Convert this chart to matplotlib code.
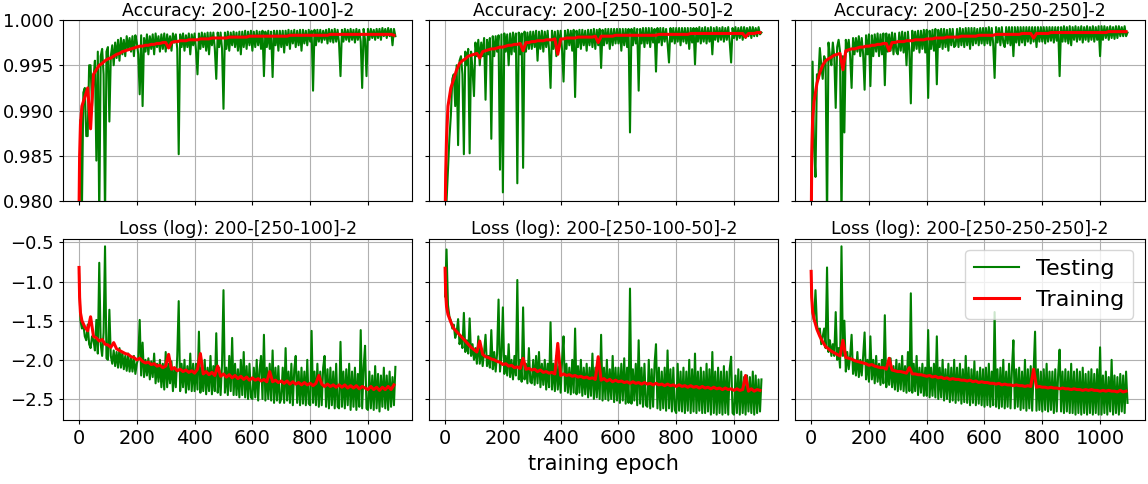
import numpy as np
from matplotlib import pyplot as plt

ep_test = list(range(0, 1100, 5))
ep_train = [0, 2, 5] + list(range(10, 1091, 10))

names = ['200-[250-100]-2', '200-[250-100-50]-2', '200-[250-250-250]-2']

acc_test_1 = [
    0.9770, 0.9890, 0.9790, 0.9920, 0.9925, 0.9872, 0.9872, 0.9950, 0.9950, 0.9905, 0.9935, 0.9955, 0.9845, 0.9965, 0.9780, 0.9960, 0.9968, 0.9940, 0.9780, 0.9965,
    0.9970, 0.9888, 0.9960, 0.9972, 0.9950, 0.9975, 0.9958, 0.9978, 0.9955, 0.9980, 0.9962, 0.9978, 0.9960, 0.9982, 0.9968, 0.9980, 0.9965, 0.9982, 0.9960, 0.9983,
    0.9975, 0.9962, 0.9918, 0.9983, 0.9905, 0.9980, 0.9965, 0.9984, 0.9962, 0.9982, 0.9968, 0.9984, 0.9962, 0.9985, 0.9970, 0.9982, 0.9965, 0.9984, 0.9968, 0.9985,
    0.9965, 0.9984, 0.9970, 0.9982, 0.9966, 0.9985, 0.9975, 0.9984, 0.9968, 0.9852, 0.9984, 0.9970, 0.9985, 0.9966, 0.9983, 0.9970, 0.9985, 0.9962, 0.9984, 0.9972,
    0.9985, 0.9966, 0.9940, 0.9985, 0.9968, 0.9986, 0.9970, 0.9985, 0.9966, 0.9986, 0.9962, 0.9986, 0.9972, 0.9986, 0.9968, 0.9935, 0.9986, 0.9970, 0.9986, 0.9968,
    0.9902, 0.9986, 0.9968, 0.9987, 0.9966, 0.9986, 0.9972, 0.9987, 0.9970, 0.9986, 0.9966, 0.9987, 0.9962, 0.9987, 0.9970, 0.9988, 0.9968, 0.9987, 0.9972, 0.9988,
    0.9966, 0.9987, 0.9970, 0.9988, 0.9972, 0.9987, 0.9968, 0.9988, 0.9938, 0.9987, 0.9970, 0.9988, 0.9968, 0.9987, 0.9937, 0.9988, 0.9972, 0.9988, 0.9966, 0.9988,
    0.9970, 0.9988, 0.9964, 0.9988, 0.9972, 0.9989, 0.9968, 0.9988, 0.9974, 0.9989, 0.9970, 0.9988, 0.9972, 0.9989, 0.9966, 0.9989, 0.9974, 0.9988, 0.9972, 0.9989,
    0.9976, 0.9988, 0.9922, 0.9989, 0.9972, 0.9989, 0.9976, 0.9989, 0.9975, 0.9988, 0.9978, 0.9989, 0.9974, 0.9990, 0.9976, 0.9989, 0.9975, 0.9990, 0.9976, 0.9989,
    0.9974, 0.9938, 0.9989, 0.9976, 0.9990, 0.9978, 0.9989, 0.9976, 0.9990, 0.9978, 0.9989, 0.9975, 0.9990, 0.9978, 0.9989, 0.9976, 0.9925, 0.9990, 0.9978, 0.9938,
    0.9990, 0.9978, 0.9990, 0.9980, 0.9989, 0.9978, 0.9990, 0.9980, 0.9990, 0.9978, 0.9991, 0.9982, 0.9990, 0.9980, 0.9991, 0.9982, 0.9990, 0.9972, 0.9990, 0.9982]
acc_train_1 = [0.9790, 0.9850, 0.9885,
    0.9905, 0.9915, 0.9925, 0.9880, 0.9940, 0.9945, 0.9950, 0.9952, 0.9955, 0.9957,
    0.9958, 0.9960, 0.9962, 0.9963, 0.9965, 0.9966, 0.9967, 0.9968, 0.9969, 0.9970,
    0.9971, 0.9971, 0.9972, 0.9972, 0.9973, 0.9973, 0.9974, 0.9974, 0.9975, 0.9975,
    0.9969, 0.9975, 0.9976, 0.9976, 0.9977, 0.9977, 0.9977, 0.9978, 0.9978, 0.9978,
    0.9978, 0.9979, 0.9979, 0.9979, 0.9979, 0.9980, 0.9980, 0.9980, 0.9980, 0.9980,
    0.9980, 0.9981, 0.9981, 0.9981, 0.9981, 0.9981, 0.9981, 0.9981, 0.9982, 0.9982,
    0.9982, 0.9982, 0.9982, 0.9982, 0.9982, 0.9982, 0.9982, 0.9982, 0.9982, 0.9982,
    0.9982, 0.9982, 0.9983, 0.9983, 0.9983, 0.9983, 0.9983, 0.9983, 0.9983, 0.9983,
    0.9983, 0.9983, 0.9983, 0.9983, 0.9983, 0.9983, 0.9984, 0.9984, 0.9984, 0.9984,
    0.9984, 0.9984, 0.9984, 0.9984, 0.9984, 0.9984, 0.9984, 0.9984, 0.9984, 0.9984,
    0.9984, 0.9984, 0.9984, 0.9984, 0.9984, 0.9984, 0.9984, 0.9984, 0.9983]

acc_test_2 = [
    0.9770, 0.9800, 0.9835, 0.9870, 0.9895, 0.9935, 0.9940, 0.9905, 0.9950, 0.9862, 0.9955, 0.9960, 0.9940, 0.9852, 0.9965, 0.9950, 0.9968, 0.9853, 0.9965, 0.9945,
    0.9916, 0.9975, 0.9960, 0.9978, 0.9950, 0.9975, 0.9960, 0.9980, 0.9912, 0.9978, 0.9962, 0.9980, 0.9869, 0.9982, 0.9960, 0.9982, 0.9965, 0.9983, 0.9835, 0.9984,
    0.9810, 0.9985, 0.9965, 0.9984, 0.9950, 0.9985, 0.9962, 0.9986, 0.9965, 0.9985, 0.9820, 0.9986, 0.9962, 0.9985, 0.9837, 0.9987, 0.9965, 0.9986, 0.9968, 0.9987,
    0.9968, 0.9987, 0.9970, 0.9988, 0.9955, 0.9987, 0.9968, 0.9988, 0.9965, 0.9987, 0.9970, 0.9988, 0.9966, 0.9925, 0.9988, 0.9968, 0.9987, 0.9960, 0.9988, 0.9970,
    0.9988, 0.9966, 0.9932, 0.9988, 0.9968, 0.9989, 0.9972, 0.9988, 0.9966, 0.9989, 0.9915, 0.9988, 0.9970, 0.9989, 0.9968, 0.9989, 0.9972, 0.9988, 0.9966, 0.9989,
    0.9972, 0.9989, 0.9970, 0.9990, 0.9968, 0.9989, 0.9972, 0.9990, 0.9947, 0.9989, 0.9972, 0.9990, 0.9974, 0.9990, 0.9968, 0.9990, 0.9972, 0.9990, 0.9974, 0.9990,
    0.9974, 0.9990, 0.9966, 0.9990, 0.9972, 0.9990, 0.9970, 0.9990, 0.9876, 0.9990, 0.9972, 0.9991, 0.9974, 0.9990, 0.9922, 0.9990, 0.9974, 0.9991, 0.9970, 0.9991,
    0.9974, 0.9991, 0.9970, 0.9991, 0.9975, 0.9990, 0.9943, 0.9991, 0.9975, 0.9991, 0.9972, 0.9991, 0.9976, 0.9990, 0.9974, 0.9953, 0.9991, 0.9976, 0.9991, 0.9974,
    0.9991, 0.9976, 0.9991, 0.9972, 0.9991, 0.9976, 0.9991, 0.9974, 0.9991, 0.9968, 0.9991, 0.9975, 0.9991, 0.9951, 0.9991, 0.9976, 0.9992, 0.9974, 0.9991, 0.9976,
    0.9992, 0.9974, 0.9991, 0.9976, 0.9992, 0.9962, 0.9991, 0.9978, 0.9992, 0.9976, 0.9991, 0.9978, 0.9992, 0.9976, 0.9991, 0.9978, 0.9992, 0.9976, 0.9953, 0.9991,
    0.9980, 0.9992, 0.9978, 0.9991, 0.9980, 0.9992, 0.9978, 0.9992, 0.9980, 0.9991, 0.9982, 0.9992, 0.9980, 0.9992, 0.9982, 0.9991, 0.9982, 0.9992, 0.9984, 0.9986]
acc_train_2 = [0.9775, 0.9830, 0.9870,
    0.9905, 0.9925, 0.9935, 0.9945, 0.9952, 0.9955, 0.9957, 0.9960, 0.9961, 0.9962,
    0.9963, 0.9958, 0.9965, 0.9966, 0.9967, 0.9968, 0.9968, 0.9969, 0.9970, 0.9970,
    0.9971, 0.9972, 0.9972, 0.9973, 0.9973, 0.9974, 0.9966, 0.9975, 0.9975, 0.9976,
    0.9976, 0.9977, 0.9977, 0.9977, 0.9978, 0.9978, 0.9978, 0.9979, 0.9962, 0.9979,
    0.9979, 0.9980, 0.9980, 0.9980, 0.9980, 0.9981, 0.9981, 0.9981, 0.9981, 0.9981,
    0.9981, 0.9982, 0.9975, 0.9982, 0.9982, 0.9982, 0.9982, 0.9982, 0.9983, 0.9983,
    0.9983, 0.9983, 0.9983, 0.9983, 0.9983, 0.9983, 0.9983, 0.9983, 0.9983, 0.9983,
    0.9983, 0.9983, 0.9983, 0.9984, 0.9984, 0.9984, 0.9984, 0.9984, 0.9984, 0.9984,
    0.9984, 0.9984, 0.9984, 0.9984, 0.9985, 0.9985, 0.9985, 0.9985, 0.9985, 0.9985,
    0.9985, 0.9985, 0.9985, 0.9985, 0.9985, 0.9985, 0.9985, 0.9985, 0.9985, 0.9985,
    0.9985, 0.9985, 0.9985, 0.9981, 0.9985, 0.9985, 0.9985, 0.9986, 0.9986]

acc_test_3 = [
    0.9765, 0.9954, 0.9860, 0.9827, 0.9940, 0.9935, 0.9969, 0.9950, 0.9935, 0.9960, 0.9955, 0.9775, 0.9975, 0.9960, 0.9950, 0.9975, 0.9960, 0.9903, 0.9970, 0.9978,
    0.9965, 0.9775, 0.9960, 0.9876, 0.9978, 0.9965, 0.9978, 0.9960, 0.9925, 0.9980, 0.9962, 0.9980, 0.9965, 0.9982, 0.9960, 0.9980, 0.9962, 0.9923, 0.9983, 0.9962,
    0.9984, 0.9927, 0.9983, 0.9960, 0.9984, 0.9965, 0.9985, 0.9960, 0.9984, 0.9962, 0.9985, 0.9928, 0.9985, 0.9965, 0.9984, 0.9966, 0.9986, 0.9962, 0.9985, 0.9965,
    0.9962, 0.9986, 0.9966, 0.9987, 0.9964, 0.9986, 0.9950, 0.9987, 0.9966, 0.9908, 0.9988, 0.9966, 0.9987, 0.9968, 0.9988, 0.9964, 0.9988, 0.9968, 0.9989, 0.9964,
    0.9989, 0.9914, 0.9988, 0.9968, 0.9989, 0.9966, 0.9990, 0.9929, 0.9989, 0.9970, 0.9990, 0.9968, 0.9990, 0.9970, 0.9989, 0.9966, 0.9990, 0.9972, 0.9990, 0.9970,
    0.9972, 0.9990, 0.9970, 0.9991, 0.9972, 0.9990, 0.9970, 0.9991, 0.9972, 0.9991, 0.9968, 0.9991, 0.9972, 0.9991, 0.9974, 0.9990, 0.9972, 0.9991, 0.9974, 0.9991,
    0.9972, 0.9991, 0.9974, 0.9992, 0.9972, 0.9991, 0.9974, 0.9936, 0.9992, 0.9975, 0.9991, 0.9972, 0.9992, 0.9975, 0.9970, 0.9992, 0.9974, 0.9992, 0.9972, 0.9992,
    0.9960, 0.9992, 0.9975, 0.9992, 0.9972, 0.9992, 0.9975, 0.9992, 0.9972, 0.9992, 0.9976, 0.9992, 0.9974, 0.9992, 0.9976, 0.9992, 0.9970, 0.9992, 0.9976, 0.9992,
    0.9976, 0.9992, 0.9974, 0.9992, 0.9976, 0.9992, 0.9977, 0.9992, 0.9975, 0.9992, 0.9977, 0.9992, 0.9938, 0.9992, 0.9976, 0.9993, 0.9976, 0.9992, 0.9974, 0.9993,
    0.9972, 0.9992, 0.9978, 0.9993, 0.9976, 0.9992, 0.9978, 0.9993, 0.9975, 0.9992, 0.9978, 0.9993, 0.9976, 0.9992, 0.9978, 0.9993, 0.9976, 0.9992, 0.9978, 0.9993,
    0.9960, 0.9993, 0.9978, 0.9993, 0.9980, 0.9992, 0.9978, 0.9993, 0.9980, 0.9992, 0.9979, 0.9993, 0.9980, 0.9993, 0.9982, 0.9992, 0.9982, 0.9993, 0.9982, 0.9986]
acc_train_3 = [0.9760, 0.9850, 0.9890,
    0.9910, 0.9930, 0.9942, 0.9950, 0.9955, 0.9957, 0.9959, 0.9961, 0.9962, 0.9963,
    0.9945, 0.9966, 0.9967, 0.9968, 0.9968, 0.9969, 0.9970, 0.9970, 0.9971, 0.9971,
    0.9972, 0.9972, 0.9973, 0.9973, 0.9974, 0.9974, 0.9966, 0.9975, 0.9975, 0.9976,
    0.9976, 0.9976, 0.9977, 0.9977, 0.9977, 0.9978, 0.9978, 0.9978, 0.9978, 0.9979,
    0.9979, 0.9979, 0.9980, 0.9980, 0.9980, 0.9980, 0.9981, 0.9981, 0.9981, 0.9981,
    0.9981, 0.9982, 0.9982, 0.9982, 0.9982, 0.9982, 0.9982, 0.9983, 0.9983, 0.9983,
    0.9983, 0.9983, 0.9983, 0.9984, 0.9984, 0.9984, 0.9984, 0.9984, 0.9984, 0.9984,
    0.9984, 0.9984, 0.9985, 0.9985, 0.9985, 0.9985, 0.9980, 0.9985, 0.9985, 0.9985,
    0.9985, 0.9985, 0.9986, 0.9986, 0.9986, 0.9986, 0.9986, 0.9986, 0.9986, 0.9986,
    0.9986, 0.9986, 0.9986, 0.9986, 0.9986, 0.9986, 0.9986, 0.9986, 0.9986, 0.9986,
    0.9986, 0.9986, 0.9987, 0.9987, 0.9987, 0.9987, 0.9987, 0.9987, 0.9987]

loss_test_1 = [
    -0.90, -1.50, -1.60, -1.55, -1.70, -1.75, -1.55, -1.80, -1.85, -1.70, -1.75, -1.88, -1.49, -1.92, -0.76, -1.80, -1.95, -1.65, -0.55, -1.98,
    -2.00, -1.36, -1.95, -2.05, -1.88, -2.08, -1.90, -2.10, -1.85, -2.10, -1.90, -2.12, -1.95, -2.14, -1.92, -2.15, -1.98, -2.15, -1.95, -2.18,
    -2.05, -1.98, -1.49, -2.20, -1.78, -2.22, -2.00, -2.20, -1.98, -2.25, -2.02, -2.22, -1.92, -2.30, -2.05, -2.28, -2.00, -2.35, -2.05, -2.38,
    -1.90, -2.35, -2.05, -2.30, -2.02, -2.40, -2.10, -2.35, -1.95, -1.25, -2.40, -2.05, -2.35, -2.00, -2.42, -2.08, -2.38, -1.92, -2.40, -2.05,
    -2.40, -2.05, -2.38, -1.64, -2.42, -2.10, -2.40, -2.00, -2.44, -2.10, -2.40, -1.95, -2.44, -2.08, -2.40, -1.66, -2.42, -2.10, -2.45, -2.05,
    -1.11, -2.42, -2.10, -2.45, -1.95, -2.40, -1.72, -2.45, -2.05, -2.45, -2.12, -2.48, -2.00, -2.45, -1.90, -2.48, -2.08, -2.50, -2.05, -2.48,
    -2.50, -2.10, -2.48, -2.00, -2.52, -2.12, -1.95, -2.50, -1.68, -2.52, -2.10, -2.50, -2.05, -2.52, -1.88, -2.55, -2.10, -2.52, -2.08, -2.55,
    -2.50, -2.10, -2.55, -1.85, -2.52, -2.15, -2.55, -2.05, -2.58, -2.12, -1.95, -2.55, -2.15, -2.58, -2.10, -2.56, -2.15, -2.58, -2.00, -2.56,
    -2.58, -1.63, -2.55, -2.15, -2.58, -2.05, -2.60, -2.15, -2.58, -2.10, -1.95, -2.60, -2.12, -2.62, -2.10, -2.58, -2.15, -2.62, -2.05, -2.60,
    -2.62, -1.77, -2.60, -2.15, -2.62, -2.12, -2.58, -2.05, -2.64, -2.15, -2.60, -2.10, -2.64, -2.18, -2.60, -1.62, -2.62, -2.10, -1.82, -2.62,
    -2.64, -2.15, -2.62, -2.20, -2.64, -2.08, -2.62, -2.18, -2.66, -2.20, -2.60, -2.10, -2.62, -2.20, -2.64, -2.15, -2.60, -2.22, -2.58, -2.09]
loss_train_1 = [-0.82, -1.20, -1.40,
    -1.50, -1.58, -1.63, -1.45, -1.70, -1.72, -1.76, -1.74, -1.80, -1.81,
    -1.84, -1.78, -1.86, -1.88, -1.90, -1.92, -1.93, -1.96, -1.97, -2.00,
    -1.98, -2.02, -2.04, -2.03, -2.06, -2.05, -2.08, -2.07, -2.10, -2.08,
    -1.93, -2.12, -2.10, -2.14, -2.12, -2.15, -2.13, -2.16, -2.14, -2.17,
    -2.12, -1.92, -2.18, -2.15, -2.19, -2.16, -2.20, -2.08, -2.21, -2.18,
    -2.22, -2.19, -2.23, -2.20, -2.24, -2.21, -2.25, -2.22, -2.26, -2.23,
    -2.26, -2.24, -2.27, -2.25, -2.28, -2.15, -2.28, -2.26, -2.29, -2.27,
    -2.30, -2.27, -2.31, -2.28, -2.31, -2.29, -2.32, -2.29, -2.32, -2.30,
    -2.33, -2.30, -2.20, -2.31, -2.34, -2.31, -2.34, -2.32, -2.35, -2.32,
    -2.35, -2.32, -2.36, -2.33, -2.36, -2.33, -2.37, -2.34, -2.36, -2.38,
    -2.34, -2.38, -2.35, -2.39, -2.35, -2.38, -2.34, -2.38, -2.32]

loss_test_2 = [
    -1.19, -0.59, -1.30, -1.45, -1.50, -1.60, -1.55, -1.72, -1.65, -1.48, -1.80, -1.70, -1.85, -1.40, -1.90, -1.75, -1.92, -1.47, -1.95, -1.80,
    -2.00, -1.85, -2.05, -1.70, -2.05, -1.85, -2.08, -1.90, -1.68, -2.08, -1.95, -2.10, -1.62, -2.12, -1.90, -2.15, -1.92, -1.23, -2.15, -1.95,
    -1.33, -2.18, -1.95, -2.20, -1.80, -2.22, -2.00, -2.25, -1.95, -2.20, -0.98, -2.25, -2.00, -2.28, -1.33, -2.25, -2.05, -2.30, -1.85, -2.28,
    -2.30, -2.00, -2.32, -1.95, -2.30, -1.90, -2.35, -2.05, -2.32, -2.00, -2.38, -2.05, -2.35, -1.52, -2.38, -2.05, -2.40, -1.95, -2.38, -2.08,
    -2.42, -2.00, -1.70, -2.40, -2.05, -2.42, -2.10, -2.44, -2.00, -2.42, -1.60, -2.44, -2.08, -2.42, -2.00, -2.46, -2.10, -2.44, -2.05, -2.48,
    -2.10, -2.46, -1.92, -2.50, -2.10, -2.48, -2.05, -2.50, -1.68, -2.52, -2.10, -2.50, -2.00, -2.52, -2.12, -2.50, -1.95, -2.54, -2.10, -2.52,
    -2.10, -2.55, -2.05, -2.52, -1.98, -2.56, -2.10, -2.55, -1.09, -2.56, -2.12, -2.52, -2.05, -2.58, -1.75, -2.56, -2.10, -2.60, -2.05, -2.58,
    -2.60, -2.00, -2.62, -2.12, -2.60, -2.05, -1.80, -2.62, -2.10, -2.64, -2.15, -2.62, -2.10, -2.65, -1.88, -2.62, -2.12, -2.66, -2.10, -2.64,
    -2.68, -2.05, -2.65, -2.15, -2.66, -2.10, -2.68, -2.15, -2.65, -2.00, -2.68, -2.12, -2.66, -1.92, -2.68, -2.15, -2.65, -2.10, -2.68, -2.15,
    -2.68, -2.05, -2.66, -2.12, -2.70, -1.90, -2.68, -2.15, -2.70, -2.10, -2.68, -2.15, -2.70, -2.08, -2.68, -2.15, -2.70, -2.12, -1.96, -2.68,
    -2.70, -2.20, -2.68, -2.12, -2.70, -2.15, -2.68, -2.22, -2.70, -2.20, -2.66, -2.22, -2.68, -2.15, -2.70, -2.20, -2.68, -2.25, -2.66, -2.25]
loss_train_2 = [-0.83, -1.15, -1.32,
    -1.42, -1.52, -1.60, -1.64, -1.68, -1.72, -1.76, -1.80, -1.84, -1.87,
    -1.90, -1.76, -1.93, -1.96, -1.97, -1.99, -2.00, -2.02, -2.03, -2.06,
    -2.05, -2.08, -2.07, -2.10, -2.09, -2.11, -1.98, -2.12, -2.11, -2.13,
    -2.12, -2.15, -2.13, -2.16, -2.15, -2.17, -2.16, -2.18, -1.79, -2.20,
    -2.18, -2.20, -2.19, -2.21, -2.20, -2.22, -2.21, -2.23, -2.22, -2.24,
    -2.23, -2.25, -1.96, -2.26, -2.24, -2.27, -2.25, -2.28, -2.26, -2.28,
    -2.27, -2.29, -2.28, -2.30, -2.28, -2.30, -2.29, -2.31, -2.29, -2.31,
    -2.30, -2.32, -2.30, -2.32, -2.31, -2.33, -2.31, -2.33, -2.32, -2.34,
    -2.32, -2.34, -2.33, -2.35, -2.33, -2.35, -2.34, -2.36, -2.34, -2.36,
    -2.35, -2.37, -2.35, -2.37, -2.36, -2.38, -2.36, -2.38, -2.37, -2.39,
    -2.37, -2.39, -2.38, -2.20, -2.40, -2.37, -2.40, -2.38, -2.39]

loss_test_3 = [
    -1.05, -1.40, -1.50, -1.11, -1.55, -1.65, -1.60, -1.80, -1.70, -1.60, -1.85, -0.82, -1.90, -1.75, -1.95, -1.80, -1.95, -1.39, -2.00, -1.85,
    -2.10, -0.55, -1.95, -1.50, -2.15, -1.90, -2.12, -1.95, -1.68, -2.18, -2.00, -2.20, -1.90, -2.22, -2.00, -2.20, -1.95, -1.65, -2.25, -2.00,
    -2.28, -1.70, -2.25, -2.00, -2.30, -1.95, -2.28, -2.05, -2.32, -2.00, -2.30, -1.43, -2.35, -2.05, -2.32, -1.98, -2.35, -2.08, -2.38, -2.00,
    -2.40, -2.05, -2.38, -1.95, -2.40, -2.08, -2.42, -1.90, -2.40, -1.15, -2.42, -2.05, -2.40, -1.95, -2.45, -2.10, -2.42, -2.05, -2.46, -2.10,
    -2.46, -1.62, -2.48, -2.10, -2.46, -2.05, -2.48, -1.70, -2.50, -2.10, -2.48, -2.00, -2.52, -2.12, -2.50, -2.05, -2.54, -2.10, -2.52, -2.00,
    -2.55, -2.10, -2.52, -2.05, -2.56, -2.12, -2.54, -1.95, -2.55, -2.10, -2.58, -2.12, -2.55, -2.02, -2.58, -2.15, -2.56, -2.10, -2.58, -2.12,
    -2.60, -2.10, -2.58, -2.05, -2.60, -2.15, -2.58, -1.39, -2.60, -2.12, -2.62, -2.10, -2.60, -2.00, -2.62, -2.15, -2.60, -2.05, -2.62, -2.12,
    -1.75, -2.62, -2.12, -2.60, -2.10, -2.64, -2.15, -2.62, -2.00, -2.65, -2.12, -2.62, -2.08, -2.65, -2.15, -1.64, -2.65, -2.12, -2.64, -2.15,
    -2.66, -2.12, -2.64, -2.05, -2.66, -2.15, -2.64, -2.15, -2.68, -2.12, -2.66, -2.18, -1.87, -2.66, -2.15, -2.68, -2.12, -2.66, -2.15, -2.68,
    -2.05, -2.68, -2.15, -2.70, -2.12, -2.68, -2.15, -2.70, -2.10, -2.68, -2.18, -2.70, -2.15, -2.68, -2.12, -2.70, -2.18, -2.68, -2.12, -2.70,
    -1.84, -2.70, -2.20, -2.68, -2.15, -2.70, -2.22, -2.66, -2.00, -2.70, -2.20, -2.68, -2.22, -2.70, -2.18, -2.66, -2.20, -2.68, -2.15, -2.55]
loss_train_3 = [-0.87, -1.20, -1.38,
    -1.48, -1.61, -1.70, -1.77, -1.83, -1.86, -1.89, -1.91, -1.93, -1.95,
    -1.75, -1.97, -1.98, -1.99, -2.01, -2.02, -2.03, -2.04, -2.05, -2.07,
    -2.06, -2.08, -2.09, -2.10, -2.10, -2.12, -1.98, -2.13, -2.14, -2.15,
    -2.15, -2.16, -2.17, -2.10, -2.18, -2.18, -2.19, -2.19, -2.20, -2.21,
    -2.20, -2.22, -2.21, -2.23, -2.22, -2.24, -2.23, -2.25, -2.24, -2.25,
    -2.25, -2.26, -2.26, -2.27, -2.26, -2.28, -2.27, -2.29, -2.28, -2.29,
    -2.29, -2.30, -2.30, -2.31, -2.30, -2.32, -2.31, -2.32, -2.32, -2.33,
    -2.32, -2.33, -2.33, -2.34, -2.33, -2.34, -2.12, -2.35, -2.34, -2.35,
    -2.35, -2.36, -2.35, -2.36, -2.36, -2.37, -2.36, -2.37, -2.37, -2.38,
    -2.37, -2.38, -2.38, -2.39, -2.38, -2.39, -2.38, -2.39, -2.39, -2.40,
    -2.39, -2.40, -2.39, -2.40, -2.40, -2.41, -2.39, -2.41, -2.40]

acc_test = [acc_test_1, acc_test_2, acc_test_3]
acc_train = [acc_train_1, acc_train_2, acc_train_3]
loss_test = [loss_test_1, loss_test_2, loss_test_3]
loss_train = [loss_train_1, loss_train_2, loss_train_3]

fig, axs = plt.subplots(2, 3, sharex=True, sharey='row', figsize=(11.48, 4.84), dpi=100)
plt.subplots_adjust(left=0.055, right=0.997, top=0.959, bottom=0.132, wspace=0.048, hspace=0.204)

for i in range(3):
    ax = axs[0, i]
    ax.plot(ep_test, acc_test[i], color='green', lw=1.5, label='Testing')
    ax.plot(ep_train, acc_train[i], color='red', lw=2.2, label='Training')
    ax.set_title('Accuracy: ' + names[i], fontsize=12.5, pad=3)
    ax.grid(True)

    ax = axs[1, i]
    ax.plot(ep_test, loss_test[i], color='green', lw=1.5, label='Testing')
    ax.plot(ep_train, loss_train[i], color='red', lw=2.2, label='Training')
    ax.set_title('Loss (log): ' + names[i], fontsize=12.5, pad=3)
    ax.grid(True)

axs[0, 0].set_ylim(0.98, 1.0)
axs[0, 0].set_yticks([0.980, 0.985, 0.990, 0.995, 1.000])
axs[0, 0].yaxis.set_major_formatter(plt.FormatStrFormatter('%.3f'))
axs[1, 0].set_ylim(-2.77, -0.45)
axs[1, 0].set_yticks([-2.5, -2.0, -1.5, -1.0, -0.5])
axs[1, 0].set_xlim(-55, 1154)
axs[1, 0].set_xticks([0, 200, 400, 600, 800, 1000])

for ax in axs.flat:
    ax.tick_params(axis='y', labelsize=13, length=3)
    ax.tick_params(axis='x', labelsize=14, length=3)

axs[1, 1].set_xlabel('training epoch', fontsize=15)
axs[1, 2].legend(loc='upper right', fontsize=16)

plt.savefig('out.png')
